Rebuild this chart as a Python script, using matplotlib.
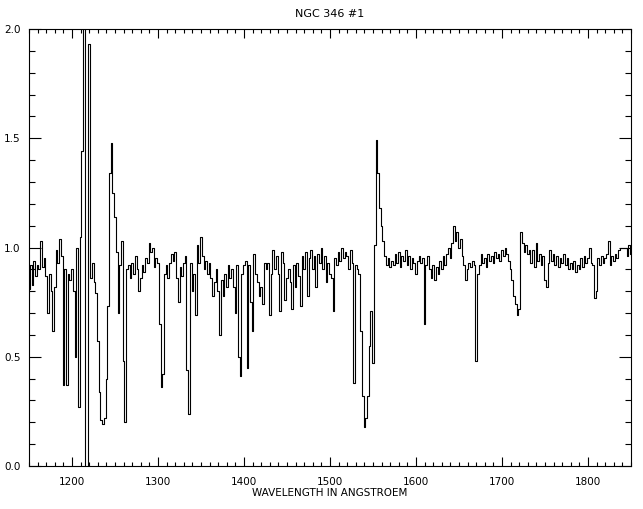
import numpy as np
import matplotlib
matplotlib.use('Agg')
import matplotlib.pyplot as plt
from matplotlib.ticker import MultipleLocator, FormatStrFormatter


# normalised flux, sampled every 2 A from 1150 to 1850 A
flux = [
    0.81, 0.92, 0.83, 0.94, 0.87, 0.92, 0.90, 1.03, 0.91, 0.95,
    0.87, 0.70, 0.88, 0.80, 0.62, 0.82, 0.99, 0.93, 1.04, 0.96,
    0.37, 0.90, 0.37, 0.88, 0.85, 0.90, 0.80, 0.50, 1.00, 0.27,
    1.05, 1.44, 5.00, -0.50, -0.50, 1.93, 0.86, 0.93, 0.84, 0.79,
    0.57, 0.34, 0.21, 0.19, 0.22, 0.40, 0.73, 1.34, 1.48, 1.25,
    1.14, 0.98, 0.70, 0.92, 1.03, 0.48, 0.20, 0.90, 0.92, 0.86,
    0.93, 0.88, 0.96, 0.90, 0.80, 0.86, 0.92, 0.89, 0.95, 0.93,
    1.02, 0.98, 1.00, 0.91, 0.95, 0.93, 0.65, 0.36, 0.42, 0.88,
    0.92, 0.86, 0.93, 0.97, 0.94, 0.98, 0.86, 0.75, 0.91, 0.87,
    0.93, 0.96, 0.44, 0.24, 0.93, 0.80, 0.88, 0.69, 1.01, 0.93,
    1.05, 0.96, 0.90, 0.94, 0.88, 0.93, 0.86, 0.78, 0.84, 0.90,
    0.80, 0.60, 0.85, 0.78, 0.88, 0.82, 0.92, 0.86, 0.90, 0.82,
    0.70, 0.92, 0.50, 0.41, 0.88, 0.92, 0.94, 0.45, 0.92, 0.75,
    0.62, 0.97, 0.88, 0.84, 0.78, 0.82, 0.74, 0.93, 0.90, 0.93,
    0.69, 0.88, 0.99, 0.90, 0.96, 0.88, 0.71, 0.98, 0.93, 0.76,
    0.86, 0.90, 0.84, 0.72, 0.92, 0.82, 0.93, 0.87, 0.73, 0.96,
    0.90, 0.98, 0.78, 0.95, 0.99, 0.90, 0.96, 0.82, 0.97, 0.93,
    1.00, 0.90, 0.96, 0.84, 0.93, 0.88, 0.86, 0.71, 0.95, 0.92,
    0.98, 0.94, 1.00, 0.95, 0.98, 0.96, 0.90, 0.99, 0.93, 0.38,
    0.92, 0.90, 0.88, 0.62, 0.32, 0.18, 0.22, 0.32, 0.55, 0.71,
    0.47, 1.01, 1.49, 1.34, 1.18, 1.10, 1.03, 0.96, 0.92, 0.95,
    0.91, 0.94, 0.92, 0.97, 0.93, 0.98, 0.91, 0.96, 0.94, 0.99,
    0.92, 0.96, 0.90, 0.95, 0.93, 0.88, 0.94, 0.96, 0.93, 0.95,
    0.65, 0.92, 0.96, 0.90, 0.86, 0.92, 0.85, 0.91, 0.88, 0.94,
    0.90, 0.96, 0.92, 0.97, 1.00, 0.95, 1.02, 1.10, 1.03, 1.07,
    1.00, 1.04, 0.96, 0.92, 0.85, 0.90, 0.93, 0.91, 0.94, 0.92,
    0.48, 0.88, 0.92, 0.97, 0.93, 0.95, 0.91, 0.97, 0.94, 0.96,
    0.93, 0.98, 0.95, 0.97, 0.94, 0.99, 0.96, 1.00, 0.97, 0.94,
    0.90, 0.85, 0.78, 0.74, 0.69, 0.72, 1.07, 1.02, 0.98, 1.01,
    0.97, 0.99, 0.93, 0.99, 0.91, 1.02, 0.94, 0.97, 0.92, 0.96,
    0.85, 0.82, 0.93, 0.99, 0.94, 0.97, 0.92, 0.96, 0.91, 0.95,
    0.93, 0.97, 0.92, 0.95, 0.90, 0.93, 0.90, 0.94, 0.89, 0.92,
    0.90, 0.95, 0.91, 0.96, 0.93, 0.95, 1.00, 0.93, 0.92, 0.77,
    0.80, 0.95, 0.92, 0.96, 0.93, 0.95, 0.97, 1.03, 0.92, 0.96,
    0.94, 0.97, 0.95, 0.99, 1.00, 1.00, 1.00, 1.00, 0.96, 1.01,
    0.97,
]
wave_min, wave_max = 1150, 1850
wavelength = np.linspace(wave_min, wave_max, len(flux))

title = 'NGC 346 #1'
xlabel = 'WAVELENGTH IN ANGSTROEM'

fig = plt.figure(figsize=(6.43, 5.09), dpi=100)
ax = fig.add_axes([29 / 643, 43 / 509, 602 / 643, 437 / 509])

# IDL-style histogram plot of the spectrum
ax.plot(wavelength, flux, color='black', lw=0.8, drawstyle='steps-mid')

ax.set_xlim(wave_min, wave_max)
ax.set_ylim(0, 2.0)
ax.xaxis.set_major_locator(MultipleLocator(100))
ax.xaxis.set_minor_locator(MultipleLocator(10))
ax.yaxis.set_major_locator(MultipleLocator(0.5))
ax.yaxis.set_minor_locator(MultipleLocator(0.1))
ax.yaxis.set_major_formatter(FormatStrFormatter('%.1f'))

ax.tick_params(axis='both', which='both', direction='in', top=True, right=True,
               colors='black', width=0.8, labelsize=7.5)
ax.tick_params(axis='x', which='major', length=6.3, pad=8)
ax.tick_params(axis='x', which='minor', length=3.1)
ax.tick_params(axis='y', which='major', length=8.6, pad=6)
ax.tick_params(axis='y', which='minor', length=4.3)
for s in ax.spines.values():
    s.set_linewidth(0.8)

ax.set_title(title, fontsize=8, pad=9)
ax.set_xlabel(xlabel, fontsize=7.5, labelpad=1)

fig.savefig('out.png', dpi=100)
